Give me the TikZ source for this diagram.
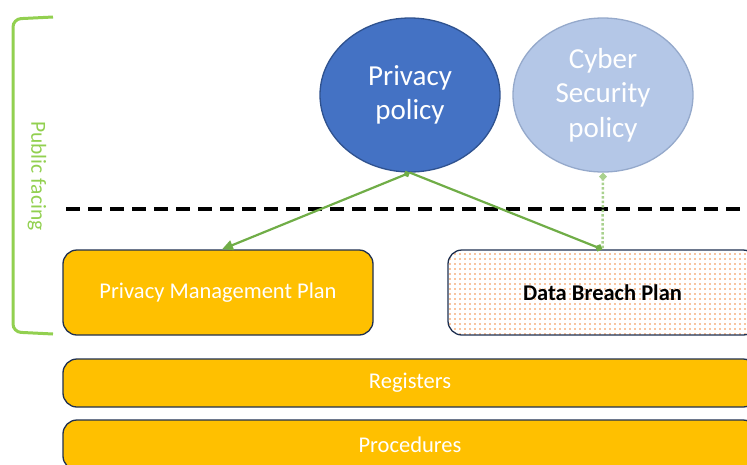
\documentclass[tikz,border=0pt]{standalone}
\usepackage{fontspec}
\setmainfont{Carlito}
\usetikzlibrary{arrows.meta, shapes.geometric, patterns.meta}
\definecolor{polblue}{HTML}{4472C4}
\definecolor{polborder}{HTML}{2F528F}
\definecolor{cyberblue}{HTML}{B4C7E7}
\definecolor{cyberborder}{HTML}{95A9CB}
\definecolor{planyellow}{HTML}{FFC000}
\definecolor{planborder}{HTML}{1F3050}
\definecolor{linkgreen}{HTML}{70AD47}
\definecolor{dotgreen}{HTML}{A9D18E}
\definecolor{bracketgreen}{HTML}{92D050}
\definecolor{dotorange}{HTML}{F08A40}

\begin{document}
\begin{tikzpicture}[x=1pt, y=-1pt,
    policy/.style={ellipse, draw, line width=1.3pt, minimum width=180pt, minimum height=154pt,
        text=white, align=center, font=\fontsize{29}{34.5}\selectfont},
    plan/.style={rectangle, rounded corners=14pt, draw=planborder, line width=1.3pt,
        fill=planyellow, text=white, font=\fontsize{22.5}{26}\selectfont},
    link/.style={draw=linkgreen, line width=2.2pt}]
    \clip (0,0) rectangle (747,464);

    % bracket and label
    \draw[bracketgreen, line width=3pt, rounded corners=8pt] (53,17) -- (13,19) -- (13,332) -- (53,334);
    \node[text=bracketgreen, rotate=-90, font=\fontsize{21.5}{24}\selectfont] (facing) at (37,176) {Public facing};

    % policies
    \node[policy, fill=polblue, draw=polborder] (privacy) at (410,95) {Privacy\\policy};
    \node[policy, fill=cyberblue, draw=cyberborder] (cyber) at (603,95) {Cyber\\Security\\policy};

    % dashed boundary
    \coordinate (dashL) at (66,209);
    \coordinate (dashR) at (747,209);
    \draw[line width=4.5pt, dash pattern=on 14pt off 8pt] (dashL) -- (dashR);

    % plans
    \node[plan, minimum width=310pt, minimum height=85pt] (pmp) at (218,292.5) {Privacy Management Plan};
    \node[plan, fill=white, minimum width=309pt, minimum height=85pt,
        pattern={Dots[distance=5pt, radius=0.8pt]}, pattern color=dotorange,
        text=black, font=\fontsize{22.5}{26}\selectfont\bfseries] (dbp) at (602.5,292.5) {Data Breach Plan};
    \node[plan, minimum width=694pt, minimum height=48pt] (registers) at (410,383) {Registers};
    \node[plan, minimum width=694pt, minimum height=50pt] (procedures) at (410,445) {Procedures};

    % links
    \draw[dotgreen, line width=2.5pt, dotted, {Diamond[length=8pt, width=8pt, line width=0pt]}-] (cyber.south) -- (dbp.north);
    \draw[link, {Diamond[length=7pt, width=7pt]}-{Triangle[length=11pt, width=10pt]}] (privacy.south) -- ([xshift=4pt]pmp.north);
    \draw[link, -{Diamond[length=8pt, width=8pt]}] (privacy.south) -- (dbp.north);
\end{tikzpicture}
\end{document}
